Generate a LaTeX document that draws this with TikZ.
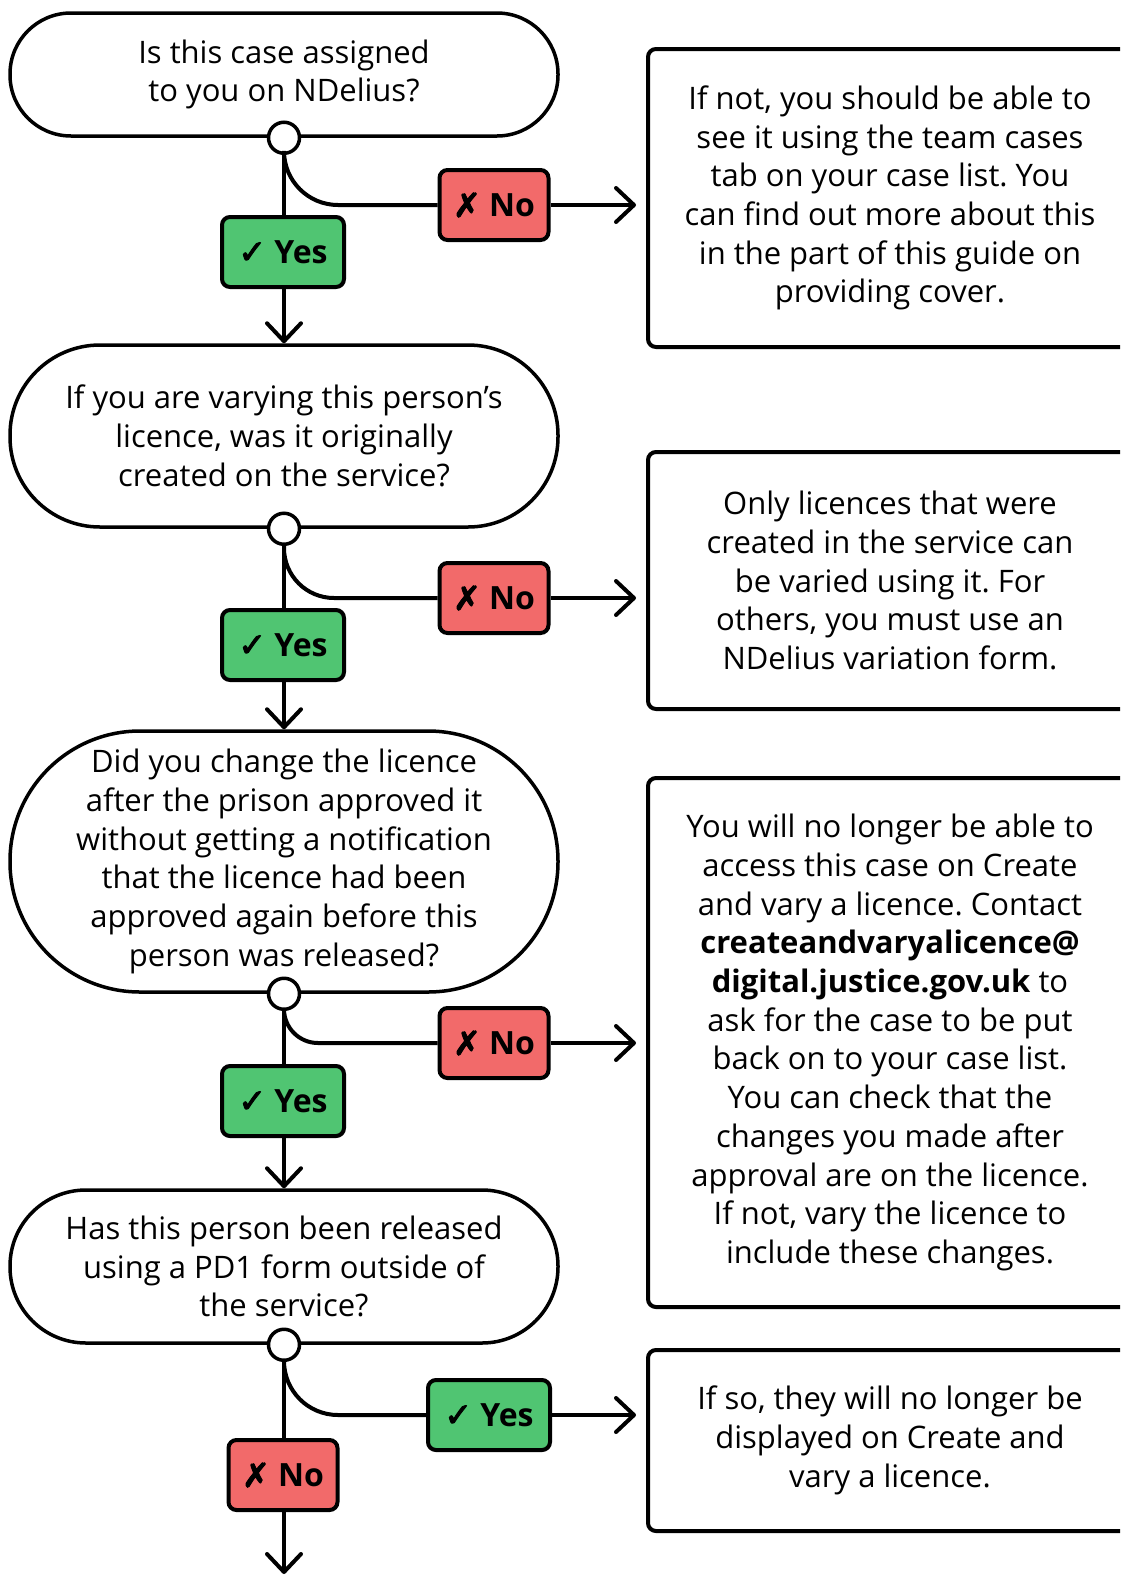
\documentclass[tikz,border=0pt]{standalone}
\usepackage{fontspec}
\setmainfont{Open Sans}
\newfontfamily\symfont{DejaVu Sans}[FakeBold=3]
\usetikzlibrary{arrows.meta}
\definecolor{yesgreen}{HTML}{50C572}
\definecolor{nored}{HTML}{F26A6A}
\newcommand\flowbody{\fontsize{31}{38.7}\selectfont\frenchspacing}
\newcommand\flowbadge{\fontsize{32}{36}\selectfont\bfseries}
\newcommand\yesmark{{\symfont\fontsize{33}{34}\selectfont ✓}~Yes}
\newcommand\nomark{{\symfont\fontsize{33}{34}\selectfont ✗}~No}
\begin{document}
\begin{tikzpicture}[x=1pt,y=-1pt,
  pill/.style={draw, line width=3.5pt, fill=white, align=center, font=\flowbody, inner sep=0pt, minimum width=548pt},
  infobox/.style={draw, line width=4pt, rounded corners=8pt, align=center, font=\flowbody, inner sep=0pt, minimum width=484pt},
  dot/.style={circle, draw, fill=white, line width=3.5pt, minimum size=31pt, inner sep=0pt},
  badge/.style={draw, line width=4pt, rounded corners=8pt, minimum height=70pt, font=\flowbadge, inner sep=0pt},
  yesbadge/.style={badge, fill=yesgreen, minimum width=122pt},
  nobadge/.style={badge, fill=nored, minimum width=109pt},
  conn/.style={line width=4pt},
  arr/.style={conn, -{Straight Barb[length=18pt,width=34pt,round]}}
]
\useasboundingbox (0,0) rectangle (1120,1577);
\clip (0,0) rectangle (1120,1577);

% decision pills
\node[pill, minimum height=123pt, rounded corners=61pt] (p1) at (284,74.5)
  {Is this case assigned\\to you on NDelius?};
\node[pill, minimum height=182pt, rounded corners=90pt] (p2) at (284,436)
  {If you are varying this person’s\\licence, was it originally\\created on the service?};
\node[pill, minimum height=261pt, rounded corners=130pt] (p3) at (284,861.5)
  {Did you change the licence\\after the prison approved it\\without getting a notification\\that the licence had been\\approved again before this\\person was released?};
\node[pill, minimum height=153pt, rounded corners=76pt] (p4) at (284,1266.5)
  {Has this person been released\\using a PD1 form outside of\\the service?};

% info boxes
\node[infobox, minimum height=298pt] (b1) at (890,198)
  {If not, you should be able to\\see it using the team cases\\tab on your case list. You\\can find out more about this\\in the part of this guide on\\providing cover.};
\node[infobox, minimum height=257pt] (b2) at (890,580.5)
  {Only licences that were\\created in the service can\\be varied using it. For\\others, you must use an\\NDelius variation form.};
\node[infobox, minimum height=529pt] (b3) at (890,1042.5)
  {You will no longer be able to\\access this case on Create\\and vary a licence. Contact\\\textbf{createandvaryalicence@}\\\textbf{digital.justice.gov.uk} to\\ask for the case to be put\\back on to your case list.\\You can check that the\\changes you made after\\approval are on the licence.\\If not, vary the licence to\\include these changes.};
\node[infobox, minimum height=181pt] (b4) at (890,1440.5)
  {If so, they will no longer be\\displayed on Create and\\vary a licence.};

% junction dots
\node[dot] (c1) at (p1.south) {};
\node[dot] (c2) at (p2.south) {};
\node[dot] (c3) at (p3.south) {};
\node[dot] (c4) at (p4.south) {};

% badges
\node[yesbadge] (y1) at (283,252) {\yesmark};
\node[nobadge]  (n1) at (494,205) {\nomark};
\node[yesbadge] (y2) at (283,645) {\yesmark};
\node[nobadge]  (n2) at (494,598) {\nomark};
\node[yesbadge] (y3) at (283,1101) {\yesmark};
\node[nobadge]  (n3) at (494,1043) {\nomark};
\node[yesbadge] (y4) at (489,1415) {\yesmark};
\node[nobadge]  (n4) at (283,1475) {\nomark};
\coordinate (bottom) at (284,1574);

% connectors
\draw[conn] (c1.south) -- (c1.south |- y1.north);
\draw[arr] (y1.south -| c1.south) -- (p2.north);
\draw[conn, rounded corners=54pt] (c1.south) |- (n1.west);
\draw[arr, shorten >=10pt] (n1.east) -- (n1.east -| b1.west);

\draw[conn] (c2.south) -- (c2.south |- y2.north);
\draw[arr] (y2.south -| c2.south) -- (p3.north);
\draw[conn, rounded corners=50pt] (c2.south) |- (n2.west);
\draw[arr, shorten >=10pt] (n2.east) -- (n2.east -| b2.west);

\draw[conn] (c3.south) -- (c3.south |- y3.north);
\draw[arr] (y3.south -| c3.south) -- (p4.north);
\draw[conn, rounded corners=34pt] (c3.south) |- (n3.west);
\draw[arr, shorten >=10pt] (n3.east) -- (n3.east -| b3.west);

\draw[conn] (c4.south) -- (c4.south |- n4.north);
\draw[arr] (n4.south -| c4.south) -- (bottom);
\draw[conn, rounded corners=54pt] (c4.south) |- (y4.west);
\draw[arr, shorten >=10pt] (y4.east) -- (y4.east -| b4.west);
\end{tikzpicture}
\end{document}
